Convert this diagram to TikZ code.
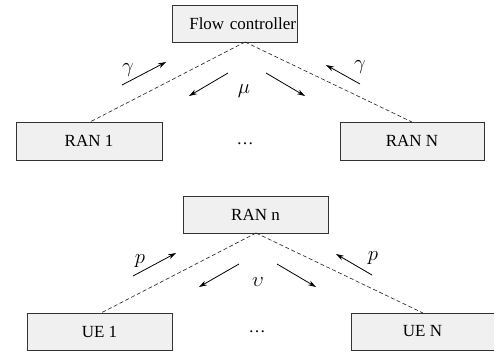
\documentclass[tikz,border=0pt]{standalone}
\usepackage{fontspec}
\setmainfont{Liberation Serif}
\usetikzlibrary{arrows.meta}
\begin{document}
\begin{tikzpicture}[x=1pt,y=-1pt,
  box/.style={draw=black!80,fill=black!6,line width=0.75pt,inner sep=0pt,font=\fontsize{17}{17}\selectfont},
  link/.style={dash pattern=on 4pt off 2.5pt,line width=0.65pt,black!85},
  flow/.style={line width=0.8pt,-{Stealth[length=8pt,width=5pt]}},
  dots/.style={font=\fontsize{17}{17}\selectfont},
  sym/.style={font=\fontsize{22}{22}\selectfont}]
\useasboundingbox (0,0) rectangle (494,356);
% upper tier: controller and RANs
\node[box,minimum width=125pt,minimum height=37pt,text width=123pt,align=right] (fc) at (234.5,23.5) {Flow controller};
\node[box,minimum width=146pt,minimum height=38pt] (r1) at (89,141) {RAN 1};
\node[box,minimum width=144pt,minimum height=38pt] (rN) at (412,141) {RAN N};
\node[dots] (d1) at (245,144) {\dots};
\coordinate (fcb) at (245,42);
\coordinate (r1t) at (90,122);
\coordinate (rNt) at (412,122);
\draw[link] (fcb) -- (r1t);
\draw[link] (fcb) -- (rNt);
\coordinate (ga1) at (122,85); \coordinate (ga2) at (166,62);
\coordinate (mu1) at (228,73); \coordinate (mu2) at (189,96);
\coordinate (mu3) at (266,73); \coordinate (mu4) at (305,96);
\coordinate (gb1) at (360,84); \coordinate (gb2) at (326,65);
\draw[flow] (ga1) -- (ga2);
\draw[flow] (mu1) -- (mu2);
\draw[flow] (mu3) -- (mu4);
\draw[flow] (gb1) -- (gb2);
\node[sym] (lg1) at (128,70) {$\gamma$};
\node[sym] (lmu) at (244,91) {$\mu$};
\node[sym] (lg2) at (360,67) {$\gamma$};
% lower tier: RAN and UEs
\node[box,minimum width=145pt,minimum height=37pt] (rn) at (255.5,214.5) {RAN n};
\node[box,minimum width=145pt,minimum height=37pt] (u1) at (99.5,331.5) {UE 1};
\node[box,minimum width=143pt,minimum height=37pt] (uN) at (422.5,331.5) {UE N};
\node[dots] (d2) at (257,332) {\dots};
\coordinate (rnb) at (256,233);
\coordinate (u1t) at (101,313);
\coordinate (uNt) at (423,313);
\draw[link] (rnb) -- (u1t);
\draw[link] (rnb) -- (uNt);
\coordinate (pa1) at (133,276); \coordinate (pa2) at (176,253);
\coordinate (up1) at (239,264); \coordinate (up2) at (199,287);
\coordinate (up3) at (277,264); \coordinate (up4) at (316,287);
\coordinate (pb1) at (372,275); \coordinate (pb2) at (336,254);
\draw[flow] (pa1) -- (pa2);
\draw[flow] (up1) -- (up2);
\draw[flow] (up3) -- (up4);
\draw[flow] (pb1) -- (pb2);
\node[sym] (lp1) at (140,261) {$p$};
\node[sym] (lup) at (258,282) {$\upsilon$};
\node[sym] (lp2) at (373,258) {$p$};
\end{tikzpicture}
\end{document}
